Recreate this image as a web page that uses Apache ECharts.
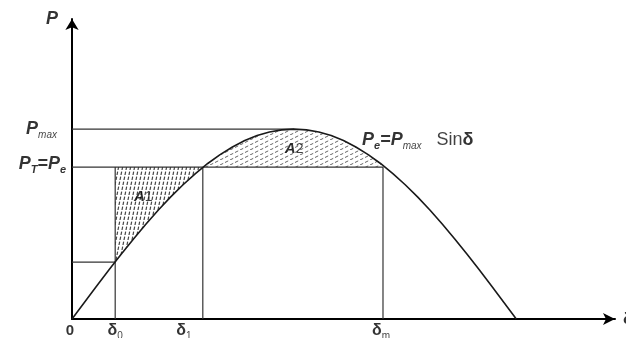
<!DOCTYPE html>
<html>
<head>
<meta charset="utf-8">
<script src="https://cdn.jsdelivr.net/npm/echarts@6/dist/echarts.min.js"></script>
<style>
    html, body { margin: 0; padding: 0; background: #fff; }
    #chart { width: 626px; height: 338px; }
</style>
</head>
<body>
<div id="chart"></div>
<script>
// power-angle curve Pe = Pmax sin(delta), delta in degrees, P in units of Pmax
const deltaDeg = [0, 5, 10, 15, 20, 25, 30, 35, 40, 45, 50, 55, 60, 65, 70, 75, 80, 85, 90,
    95, 100, 105, 110, 115, 120, 125, 130, 135, 140, 145, 150, 155, 160, 165, 170, 175, 180];
const powerVals = [0, 0.087, 0.174, 0.259, 0.342, 0.423, 0.500, 0.574, 0.643, 0.707, 0.766, 0.819, 0.866, 0.906, 0.940, 0.966, 0.985, 0.996, 1.000,
    0.996, 0.985, 0.966, 0.940, 0.906, 0.866, 0.819, 0.766, 0.707, 0.643, 0.574, 0.500, 0.423, 0.342, 0.259, 0.174, 0.087, 0];

// levels and angles marked on the figure
const pMax = 1.0;
const pT = 0.8;
const p0 = 0.3;
const delta0 = 17.5;
const delta1 = 53;
const deltaM = 126;
const deltaPeak = 90;

const xAxisMax = 220;
const yAxisMax = 1.58;

const curvePts = deltaDeg.map((d, i) => [d, powerVals[i]]);

// A1: between the curve and the Pt line, delta0..delta1
const areaA1 = [[delta0, pT], [delta1, pT]]
    .concat(curvePts.filter(p => p[0] > delta0 && p[0] < delta1).reverse())
    .concat([[delta0, p0]]);
// A2: between the Pt line and the curve, delta1..deltaM
const areaA2 = [[delta1, pT]]
    .concat(curvePts.filter(p => p[0] > delta1 && p[0] < deltaM))
    .concat([[deltaM, pT]]);

const guideLines = [
    [[0, pMax], [deltaPeak, pMax]],
    [[0, pT], [deltaM, pT]],
    [[0, p0], [delta0, p0]],
    [[delta0, 0], [delta0, pT]],
    [[delta1, 0], [delta1, pT]],
    [[deltaM, 0], [deltaM, pT]]
];

function makeHatch(w, h, dash, color, lw) {
    const c = document.createElement('canvas');
    c.width = w;
    c.height = h;
    const ctx = c.getContext('2d');
    ctx.strokeStyle = color;
    ctx.lineWidth = lw;
    ctx.setLineDash(dash);
    for (let k = -1; k <= 1; k++) {
        ctx.beginPath();
        ctx.moveTo(k * w, h);
        ctx.lineTo(k * w + w, 0);
        ctx.stroke();
    }
    return { image: c, repeat: 'repeat' };
}

const hatchA1 = makeHatch(4, 20, [3.4, 1.7], '#444', 1.2);
const hatchA2 = makeHatch(10, 5, [3.6, 1.99], '#666', 1);

const font = 'Liberation Sans, Arial, sans-serif';
const rich = {
    P: { fontFamily: font, fontWeight: 'bold', fontStyle: 'italic', fontSize: 18, color: '#000', lineHeight: 22 },
    sub: { fontFamily: font, fontStyle: 'italic', fontSize: 10, color: '#111', lineHeight: 11, verticalAlign: 'bottom' },
    subb: { fontFamily: font, fontWeight: 'bold', fontStyle: 'italic', fontSize: 11, color: '#000', lineHeight: 11, verticalAlign: 'bottom' },
    t: { fontFamily: font, fontSize: 18, color: '#111', lineHeight: 22 },
    tb: { fontFamily: font, fontWeight: 'bold', fontSize: 18, color: '#000', lineHeight: 22 },
    d: { fontFamily: font, fontWeight: 'bold', fontSize: 16, color: '#000', lineHeight: 20 },
    ds: { fontFamily: font, fontSize: 10, color: '#111', lineHeight: 14, verticalAlign: 'bottom' },
    z: { fontFamily: font, fontWeight: 'bold', fontSize: 15, color: '#000', lineHeight: 20 },
    a: { fontFamily: font, fontWeight: 'bold', fontStyle: 'italic', fontSize: 15, color: '#000', lineHeight: 20 },
    an: { fontFamily: font, fontSize: 14, color: '#111', lineHeight: 20 }
};

const labelItems = [
    { value: [0, yAxisMax], text: '{P|P}', offset: [-20, 0], align: 'center' },
    { value: [0, pMax], text: '{P|P}{sub|max}', offset: [-15, 0], align: 'right' },
    { value: [0, pT], text: '{P|P}{subb|T}{P|=P}{subb|e}', offset: [-6, -3], align: 'right' },
    { value: [0, 0], text: '{z|0}', offset: [-2, 12], align: 'center' },
    { value: [delta0, 0], text: '{d|δ}{ds|0}', offset: [0, 12], align: 'center' },
    { value: [delta1, 0], text: '{d|δ}{ds|1}', offset: [-19, 12], align: 'center' },
    { value: [deltaM, 0], text: '{d|δ}{ds|m}', offset: [-2, 12], align: 'center' },
    { value: [xAxisMax, 0], text: '{d|δ}', offset: [8, 1], align: 'left' },
    { value: [delta0, pT], text: '{a|A}{an|1}', offset: [28, 30], align: 'center' },
    { value: [deltaPeak, pMax], text: '{a|A}{an|2}', offset: [0, 20], align: 'center' },
    { value: [deltaM, pT], text: '{P|P}{subb|e}{P|=P}{sub|max}{t|   Sin}{tb|δ}', offset: [-21, -27], align: 'left' }
];

function areaSeries(points, pattern) {
    return {
        type: 'custom',
        silent: true,
        z: 1,
        data: [points[0]],
        renderItem: function (params, api) {
            return {
                type: 'polygon',
                shape: { points: points.map(p => api.coord(p)) },
                style: { fill: pattern, stroke: null }
            };
        }
    };
}

const chart = echarts.init(document.getElementById('chart'));

const axisCommon = {
    type: 'value',
    min: 0,
    axisTick: { show: false },
    axisLabel: { show: false },
    splitLine: { show: false }
};

const series = [
    areaSeries(areaA1, hatchA1),
    areaSeries(areaA2, hatchA2)
];

guideLines.forEach(seg => {
    series.push({
        type: 'line',
        data: seg,
        silent: true,
        showSymbol: false,
        z: 2,
        lineStyle: { color: '#333', width: 1.2 }
    });
});

series.push({
    type: 'line',
    data: curvePts,
    silent: true,
    showSymbol: false,
    z: 3,
    lineStyle: { color: '#1a1a1a', width: 1.6 }
});

series.push({
    type: 'scatter',
    silent: true,
    clip: false,
    symbolSize: 1,
    itemStyle: { color: 'transparent' },
    z: 5,
    data: labelItems.map(item => ({
        value: item.value,
        label: {
            show: true,
            position: 'inside',
            offset: item.offset,
            align: item.align,
            verticalAlign: 'middle',
            formatter: item.text,
            rich: rich
        }
    }))
});

chart.setOption({
    animation: false,
    backgroundColor: '#fff',
    grid: { left: 72, right: 11, top: 19, bottom: 19 },
    xAxis: Object.assign({}, axisCommon, {
        max: xAxisMax,
        axisLine: {
            show: true,
            symbol: ['none', 'arrow'],
            symbolSize: [9, 12],
            lineStyle: { color: '#000', width: 2 }
        }
    }),
    yAxis: Object.assign({}, axisCommon, {
        max: yAxisMax,
        axisLine: {
            show: true,
            symbol: ['none', 'arrow'],
            symbolSize: [10, 11],
            lineStyle: { color: '#000', width: 2 }
        }
    }),
    series: series
});
</script>
</body>
</html>
